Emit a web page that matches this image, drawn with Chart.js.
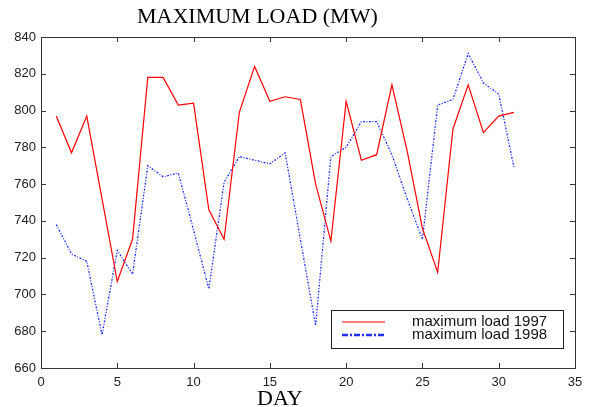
<!DOCTYPE html>
<html>
<head>
<meta charset="utf-8">
<script src="https://cdn.jsdelivr.net/npm/chart.js@4/dist/chart.umd.min.js"></script>
<style>
  html, body { margin:0; padding:0; background:#fff; }
  #wrap { width:591px; height:407px; position:relative; }
</style>
</head>
<body>
<div id="wrap"><canvas id="chart-load" width="591" height="407"></canvas></div>
<script>
// 0) values
const DAYS     = [1,2,3,4,5,6,7,8,9,10,11,12,13,14,15,16,17,18,19,20,21,22,23,24,25,26,27,28,29,30,31];
const LOAD1997 = [797,777,797,752,707,730,818,818,803,804,746,730,799,824,805,807.5,806,760,729,805,773,776,814,778,736,712,790,814,788,797,799];
const LOAD1998 = [738,722,718,678,724,711,770,764,766,735,703,761,775,773,771,777,730,683,775,780,794,794,776,752,730,803,806,831,815,809,769];
const X_TICKS  = [0,5,10,15,20,25,30,35];
const Y_TICKS  = [660,680,700,720,740,760,780,800,820,840];
const TITLE    = 'MAXIMUM LOAD (MW)';
const X_LABEL  = 'DAY';
const NAMES    = ['maximum load 1997','maximum load 1998'];

const toPts = ys => DAYS.map((d,i) => ({ x:d, y:ys[i] }));

// matlab-ish frame: box + inward ticks, title, xlabel, boxed legend
const framePlugin = {
  id: 'frame',
  afterDatasetsDraw(chart) {
    const { ctx, chartArea:a, scales:{ x, y } } = chart;
    ctx.save();
    ctx.strokeStyle = '#333';
    ctx.lineWidth = 1;
    ctx.strokeRect(a.left + 0.5, a.top + 0.5, a.right - a.left, a.bottom - a.top);
    ctx.beginPath();
    X_TICKS.forEach(v => {
      const px = Math.round(x.getPixelForValue(v)) + 0.5;
      ctx.moveTo(px, a.bottom); ctx.lineTo(px, a.bottom - 5);
      ctx.moveTo(px, a.top);    ctx.lineTo(px, a.top + 5);
    });
    Y_TICKS.forEach(v => {
      const py = Math.round(y.getPixelForValue(v)) + 0.5;
      ctx.moveTo(a.left, py);  ctx.lineTo(a.left + 5, py);
      ctx.moveTo(a.right, py); ctx.lineTo(a.right - 5, py);
    });
    ctx.stroke();

    // legend box, bottom right inside the axes
    const bx = a.right - 244, by = a.bottom - 58, bw = 232, bh = 38;
    ctx.fillStyle = '#fff';
    ctx.fillRect(bx, by, bw, bh);
    ctx.strokeStyle = '#222';
    ctx.strokeRect(bx + 0.5, by + 0.5, bw, bh);
    ctx.font = '15px "Liberation Sans", Arial, sans-serif';
    ctx.textBaseline = 'middle';
    chart.data.datasets.forEach((ds, i) => {
      const ly = by + 12 + i * 13;
      ctx.beginPath();
      ctx.strokeStyle = ds.borderColor;
      ctx.lineWidth = i ? 2.5 : 1.2;
      ctx.setLineDash(i ? [6,2,2,2] : []);
      ctx.moveTo(bx + 11, ly); ctx.lineTo(bx + 54, ly);
      ctx.stroke();
      ctx.setLineDash([]);
      ctx.fillStyle = '#111';
      ctx.fillText(ds.label, bx + 81, ly);
    });

    // title and x label in serif
    ctx.fillStyle = '#000';
    ctx.textBaseline = 'alphabetic';
    ctx.font = '22px "Liberation Serif", "Times New Roman", serif';
    ctx.fillText(TITLE, 137, 23);
    ctx.fillText(X_LABEL, 257, 405);
    ctx.restore();
  }
};

const ctx = document.getElementById('chart-load').getContext('2d');
new Chart(ctx, {
  type: 'line',
  data: {
    datasets: [
      { label: NAMES[0], data: toPts(LOAD1997), borderColor:'#ff0000', borderWidth:1.2,
        pointRadius:0, tension:0, fill:false },
      { label: NAMES[1], data: toPts(LOAD1998), borderColor:'#2233ff', borderWidth:1.3,
        borderDash:[2,1.5,1,1.5], pointRadius:0, tension:0, fill:false }
    ]
  },
  options: {
    responsive: false,
    animation: false,
    layout: { padding: { top:37, right:16, left:0, bottom:0 } },
    plugins: { legend: { display:false }, title: { display:false }, tooltip: { enabled:false } },
    scales: {
      x: {
        type: 'linear', min:0, max:35,
        afterBuildTicks: s => { s.ticks = X_TICKS.map(v => ({ value:v })); },
        afterFit: s => { s.height = 39; },
        grid: { display:false, drawTicks:false },
        border: { display:false },
        ticks: { padding:7, color:'#222', font:{ family:'"Liberation Sans", Arial, sans-serif', size:13 } }
      },
      y: {
        type: 'linear', min:660, max:840,
        afterBuildTicks: s => { s.ticks = Y_TICKS.map(v => ({ value:v })); },
        afterFit: s => { s.width = 41; },
        grid: { display:false, drawTicks:false },
        border: { display:false },
        ticks: { padding:5, color:'#222', font:{ family:'"Liberation Sans", Arial, sans-serif', size:13 } }
      }
    }
  },
  plugins: [framePlugin]
});
</script>
</body>
</html>
